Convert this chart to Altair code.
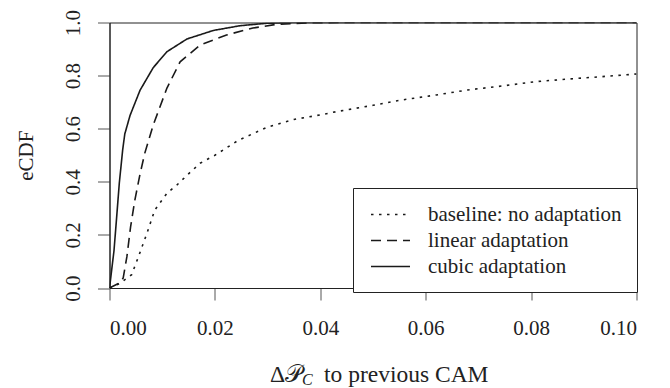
import altair as alt
import pandas as pd

# ---- data ----
series_names = ["baseline: no adaptation", "linear adaptation", "cubic adaptation"]

base_x = [0, 0.002, 0.0042, 0.0055, 0.0071, 0.0086, 0.0109, 0.0128, 0.0151, 0.0172, 0.020,
          0.0245, 0.030, 0.035, 0.040, 0.043, 0.050, 0.0554, 0.062, 0.068, 0.075, 0.0807,
          0.087, 0.0934, 0.1]
base_y = [0, 0.018, 0.05, 0.118, 0.206, 0.294, 0.357, 0.388, 0.432, 0.47, 0.5,
          0.557, 0.606, 0.635, 0.652, 0.664, 0.688, 0.708, 0.727, 0.746, 0.762, 0.777,
          0.787, 0.796, 0.806]

lin_x = [0, 0.002, 0.0026, 0.0033, 0.004, 0.0048, 0.0058, 0.0067, 0.0083, 0.0109, 0.0134,
         0.0172, 0.0222, 0.0272, 0.0317, 0.038, 0.045, 0.1]
lin_y = [0, 0.02, 0.038, 0.118, 0.23, 0.33, 0.43, 0.508, 0.614, 0.753, 0.852,
         0.915, 0.953, 0.979, 0.993, 0.999, 1.0, 1.0]

cub_x = [0, 0.00085, 0.00137, 0.00186, 0.0025, 0.0029, 0.0039, 0.0058, 0.0083, 0.0109,
         0.0147, 0.0197, 0.0248, 0.0298, 0.035, 0.045, 0.1]
cub_y = [0, 0.14, 0.27, 0.395, 0.52, 0.58, 0.65, 0.745, 0.83, 0.89,
         0.938, 0.97, 0.988, 0.997, 1.0, 1.0, 1.0]

x_ticks = [0, 0.02, 0.04, 0.06, 0.08, 0.10]
y_ticks = [0, 0.2, 0.4, 0.6, 0.8, 1.0]

title_main = "Δ𝒫"
title_sub = "C"
title_rest = "to previous CAM"
y_title = "eCDF"

dashes = [[2.5, 5.5], [10, 6], [1, 0]]

rows = []
for name, xs, ys in zip(series_names, [base_x, lin_x, cub_x], [base_y, lin_y, cub_y]):
    for xv, yv in zip(xs, ys):
        rows.append({"series": name, "x": xv, "y": yv})
df = pd.DataFrame(rows)

FONT = "Liberation Serif"
MATHFONT = "Liberation Serif, DejaVu Serif, DejaVu Sans"
W, H = 527, 265.5
INK = "#1a1a1a"

lines = alt.Chart(df).mark_line(strokeWidth=1.6, color=INK, clip=True).encode(
    x=alt.X("x:Q", scale=alt.Scale(domain=[0, 0.1], nice=False, zero=False),
            axis=alt.Axis(values=x_ticks, format=".2f", title=None, labelPadding=17,
                          labelFontSize=21, labelFont=FONT, grid=False)),
    y=alt.Y("y:Q", scale=alt.Scale(domain=[0, 1], nice=False),
            axis=alt.Axis(values=y_ticks, format=".1f", title=y_title, grid=False,
                          labelAngle=270, labelAlign="center", labelBaseline="alphabetic",
                          labelPadding=18, labelFontSize=21, labelFont=FONT,
                          titleAngle=270, titleX=-83, titleY=H / 2,
                          titleAlign="center", titleBaseline="middle",
                          titleFontSize=21, titleFontWeight="normal", titleFont=FONT)),
    strokeDash=alt.StrokeDash(
        "series:N",
        scale=alt.Scale(domain=series_names, range=dashes),
        sort=series_names,
        legend=alt.Legend(
            title=None, orient="none", legendX=243.5, legendY=165.5,
            strokeColor="#222", fillColor="white", padding=15,
            labelFont=FONT, labelFontSize=21, labelColor="#222", labelLimit=400,
            labelExpr="datum.label + '  '",
            labelOffset=26, symbolType="M-1.857,0H1.857", symbolSize=441, symbolOffset=11,
            symbolStrokeWidth=1.6, symbolStrokeColor=INK, rowPadding=4,
        ),
    ),
)

tdf = pd.DataFrame({"t": [0]})
t1 = alt.Chart(tdf).mark_text(text=title_main, font=MATHFONT, fontSize=23.5, align="right",
                              baseline="alphabetic", color="#222").encode(
    x=alt.value(192.5), y=alt.value(359))
t2 = alt.Chart(tdf).mark_text(text=title_sub, font=FONT, fontSize=16, fontStyle="italic",
                              align="left", baseline="alphabetic", color="#222").encode(
    x=alt.value(192.5), y=alt.value(362))
t3 = alt.Chart(tdf).mark_text(text=title_rest, font=FONT, fontSize=23.5, align="left",
                              baseline="alphabetic", color="#222").encode(
    x=alt.value(214.5), y=alt.value(359))

chart = alt.layer(lines, t1, t2, t3).properties(
    width=W, height=H,
    autosize=alt.AutoSizeParams(type="none"),
    padding={"left": 101.5, "top": 14.5, "right": 16, "bottom": 100},
    background="white",
).configure_view(stroke="#222", strokeWidth=1).configure_axis(
    grid=False, domainColor="#222", domainWidth=1, tickColor="#555", tickSize=12,
    tickWidth=1, labelFont=FONT, labelColor="#222", titleColor="#222",
).configure_legend(labelFont=FONT).configure_text(font=FONT)

chart.save("out.html", embed_options={"renderer": "svg", "actions": False})
